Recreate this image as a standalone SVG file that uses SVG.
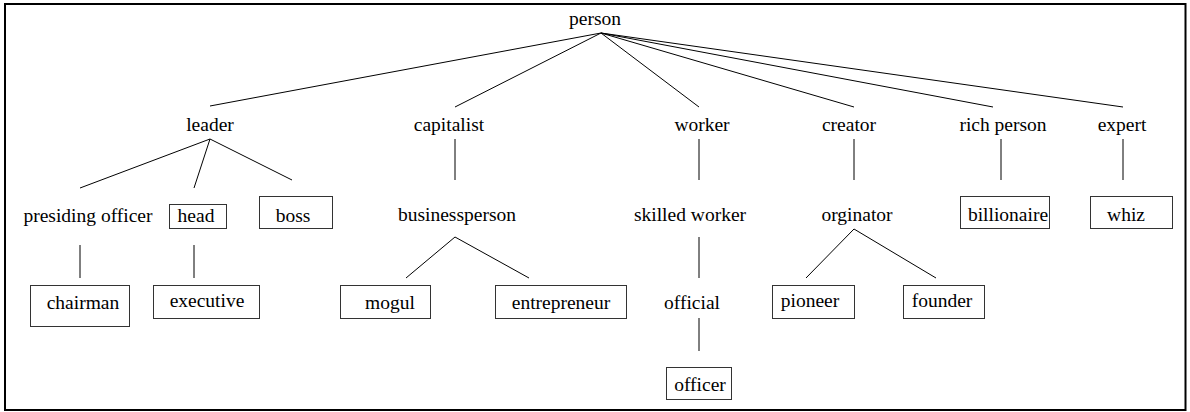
<svg xmlns="http://www.w3.org/2000/svg" width="1190" height="412" viewBox="0 0 1190 412">
<style>
text{font-family:"Liberation Serif","Times New Roman",serif;font-size:19.5px;fill:#000;text-anchor:middle}
.b{fill:#fff;stroke:#333;stroke-width:1}
#edges line{stroke:#000;stroke-width:1}
</style>
<rect x="5" y="4" width="1180.5" height="406" fill="#fff" stroke="#000" stroke-width="2"/>
<g id="edges">
<line x1="601" y1="33" x2="210" y2="106"/>
<line x1="601" y1="33" x2="455" y2="107"/>
<line x1="601" y1="33" x2="699" y2="107"/>
<line x1="601" y1="33" x2="854" y2="107"/>
<line x1="601" y1="33" x2="993" y2="107"/>
<line x1="601" y1="33" x2="1123" y2="107"/>
<line x1="210" y1="139" x2="80" y2="188"/>
<line x1="210" y1="139" x2="194" y2="188"/>
<line x1="210" y1="139" x2="292" y2="180"/>
<line x1="455" y1="139" x2="455" y2="180"/>
<line x1="699" y1="139" x2="699" y2="180"/>
<line x1="854" y1="139" x2="854" y2="180"/>
<line x1="1001" y1="139" x2="1001" y2="180"/>
<line x1="1123" y1="139" x2="1123" y2="180"/>
<line x1="80" y1="245" x2="80" y2="278"/>
<line x1="194" y1="245" x2="194" y2="278"/>
<line x1="455" y1="237" x2="406" y2="278"/>
<line x1="455" y1="237" x2="529" y2="278"/>
<line x1="699" y1="237" x2="699" y2="278"/>
<line x1="699" y1="318" x2="699" y2="351"/>
<line x1="854" y1="229" x2="806" y2="278"/>
<line x1="854" y1="229" x2="936" y2="278"/>
</g>
<g id="person"><text x="595" y="25">person</text></g>
<g id="leader"><text x="210" y="131">leader</text></g>
<g id="capitalist"><text x="449" y="131">capitalist</text></g>
<g id="worker"><text x="702" y="131">worker</text></g>
<g id="creator"><text x="849" y="131">creator</text></g>
<g id="rich_person"><text x="1003" y="131">rich person</text></g>
<g id="expert"><text x="1122" y="131">expert</text></g>
<g id="presiding_officer"><text x="88" y="222">presiding officer</text></g>
<g id="head"><rect class="b" x="169.5" y="204.5" width="57" height="24"/><text x="196" y="222">head</text></g>
<g id="boss"><rect class="b" x="259.5" y="196.5" width="73" height="32"/><text x="293" y="222">boss</text></g>
<g id="businessperson"><text x="457" y="221">businessperson</text></g>
<g id="skilled_worker"><text x="690" y="221">skilled worker</text></g>
<g id="orginator"><text x="857" y="221">orginator</text></g>
<g id="billionaire"><rect class="b" x="960.5" y="196.5" width="89" height="32"/><text x="1008" y="221">billionaire</text></g>
<g id="whiz"><rect class="b" x="1090.5" y="196.5" width="82" height="32"/><text x="1126" y="221">whiz</text></g>
<g id="chairman"><rect class="b" x="30.5" y="285.5" width="99" height="41"/><text x="83" y="309">chairman</text></g>
<g id="executive"><rect class="b" x="153.5" y="285.5" width="106" height="33"/><text x="207" y="307">executive</text></g>
<g id="mogul"><rect class="b" x="340.5" y="285.5" width="90" height="33"/><text x="390" y="309">mogul</text></g>
<g id="entrepreneur"><rect class="b" x="495.5" y="285.5" width="131" height="33"/><text x="561" y="309">entrepreneur</text></g>
<g id="official"><text x="692" y="309">official</text></g>
<g id="pioneer"><rect class="b" x="772.5" y="285.5" width="82" height="33"/><text x="810" y="307">pioneer</text></g>
<g id="founder"><rect class="b" x="903.5" y="285.5" width="81" height="33"/><text x="942" y="307">founder</text></g>
<g id="officer"><rect class="b" x="666.5" y="367.5" width="65" height="32"/><text x="700" y="391">officer</text></g>
</svg>
